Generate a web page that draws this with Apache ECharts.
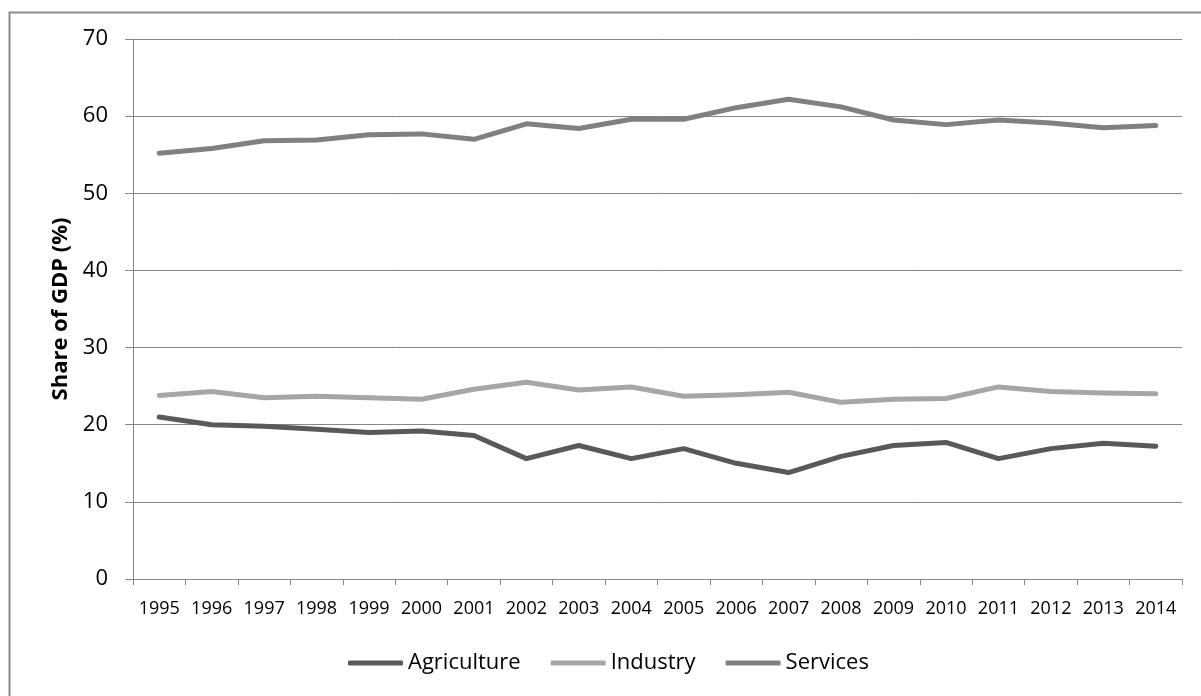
<!DOCTYPE html>
<html>
<head>
<meta charset="utf-8">
<script src="https://cdn.jsdelivr.net/npm/echarts@6/dist/echarts.min.js"></script>
<style>
html,body{margin:0;padding:0;background:#fff;}
#chart{width:1201px;height:696px;}
</style>
</head>
<body>
<div id="chart"></div>
<script>
const years = ['1995','1996','1997','1998','1999','2000','2001','2002','2003','2004','2005','2006','2007','2008','2009','2010','2011','2012','2013','2014'];
const agriculture = [21.0,20.0,19.8,19.4,19.0,19.2,18.6,15.6,17.3,15.6,16.9,15.0,13.8,15.9,17.3,17.7,15.6,16.9,17.6,17.2];
const industry = [23.8,24.3,23.5,23.7,23.5,23.3,24.6,25.5,24.5,24.9,23.7,23.9,24.2,22.9,23.3,23.4,24.9,24.3,24.1,24.0];
const services = [55.2,55.8,56.8,56.9,57.6,57.7,57.0,59.0,58.4,59.6,59.6,61.1,62.2,61.2,59.5,58.9,59.5,59.1,58.5,58.8];
const yTicks = {min: 0, max: 70, interval: 10};
const yName = 'Share of GDP (%)';

const chart = echarts.init(document.getElementById('chart'));
const FONT = '"Open Sans", "Liberation Sans", sans-serif';
const gridColor = '#878787';
function mk(name, data, color) {
  return {
    name: name, type: 'line', data: data, showSymbol: false, symbol: 'none',
    lineStyle: {color: color, width: 5, cap: 'round', join: 'round'},
    itemStyle: {color: color}
  };
}
chart.setOption({
  animation: false,
  backgroundColor: '#fff',
  graphic: [{
    type: 'rect', left: 7, top: 10, silent: true,
    shape: {x: 0, y: 0, width: 1400, height: 900},
    style: {fill: 'none', stroke: '#8c8c8c', lineWidth: 2}
  }],
  grid: {left: 133, right: 19, top: 39, bottom: 117},
  legend: {
    left: 343, top: 647,
    itemWidth: 55, itemHeight: 5, itemGap: 30, icon: 'roundRect',
    textStyle: {fontFamily: FONT, fontSize: 22, color: '#000', padding: [0,0,0,0]},
    data: ['Agriculture','Industry','Services']
  },
  xAxis: {
    type: 'category', data: years, boundaryGap: true,
    axisLine: {lineStyle: {color: gridColor, width: 1}},
    axisTick: {show: true, length: 6, alignWithLabel: false, lineStyle: {color: gridColor}},
    axisLabel: {fontFamily: FONT, fontSize: 18, color: '#000', margin: 21, interval: 0}
  },
  yAxis: {
    type: 'value', min: yTicks.min, max: yTicks.max, interval: yTicks.interval,
    name: yName, nameLocation: 'middle', nameGap: 61, nameRotate: 90,
    nameTextStyle: {fontFamily: FONT, fontSize: 22, fontWeight: 'bold', color: '#000'},
    axisLine: {show: true, lineStyle: {color: gridColor, width: 1}},
    axisTick: {show: true, length: 8, lineStyle: {color: gridColor}},
    axisLabel: {fontFamily: FONT, fontSize: 22, color: '#000', margin: 25},
    splitLine: {show: true, lineStyle: {color: gridColor, width: 1}}
  },
  series: [
    mk('Agriculture', agriculture, '#595959'),
    mk('Industry', industry, '#a6a6a6'),
    mk('Services', services, '#808080')
  ]
});
</script>
</body>
</html>
